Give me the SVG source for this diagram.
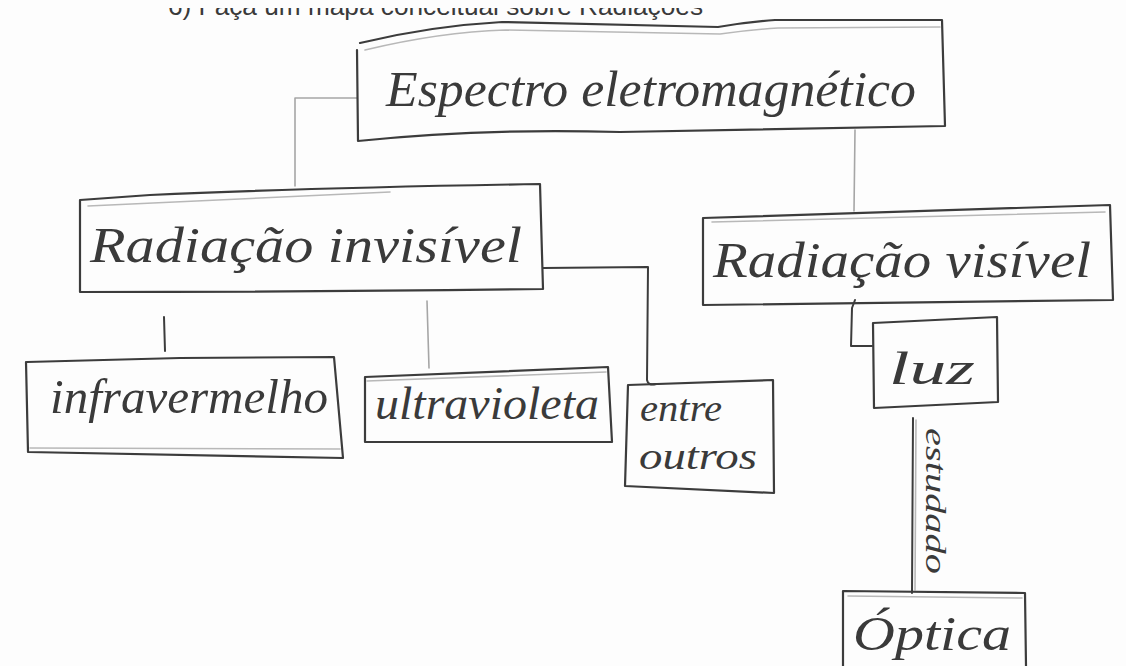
<svg xmlns="http://www.w3.org/2000/svg" width="1126" height="666" viewBox="0 0 1126 666">
  <defs>
    <style>
      .box { fill: none; stroke: #3c3c3c; stroke-width: 2.2; stroke-linecap: round; stroke-linejoin: round; }
      .ghost { fill: none; stroke: #b8b8b8; stroke-width: 1.6; stroke-linecap: round; }
      .link { fill: none; stroke: #3c3c3c; stroke-width: 2; stroke-linecap: round; stroke-linejoin: round; }
      .link-faint { fill: none; stroke: #a6a6a6; stroke-width: 1.6; stroke-linecap: round; stroke-linejoin: round; }
      .hand { font-family: "Liberation Serif", "DejaVu Serif", serif; font-style: italic; fill: #3a3a3a; }
      .print { font-family: "Liberation Sans", Arial, sans-serif; fill: #3a3a3a; }
    </style>
    <clipPath id="page-top">
      <rect x="0" y="8" width="1126" height="40"/>
    </clipPath>
  </defs>

  <rect x="0" y="0" width="1126" height="666" fill="#fdfdfd"/>

  <!-- printed exercise heading, cut at the page edge -->
  <g clip-path="url(#page-top)">
    <text class="print" x="168" y="15" font-size="26" textLength="535" lengthAdjust="spacingAndGlyphs">6) Faça um mapa conceitual sobre Radiações</text>
  </g>

  <!-- connectors -->
  <g id="connectors">
    <path class="link-faint" d="M357,98 H295 V186"/>
    <path class="link-faint" d="M855,130 L854,211"/>
    <path class="link" d="M164,317 L165,351"/>
    <path class="link-faint" d="M427,301 L429,368"/>
    <path class="link" d="M543,268 L648,267 L647,380 Q648,386 656,384"/>
    <path class="link" d="M855,300 L852,308 L851,346 L872,346"/>
    <path class="ghost" d="M916,420 L915,590"/>
    <path class="link" d="M913,418 L912,593"/>
    <text class="hand" x="0" y="0" font-size="30" textLength="146" lengthAdjust="spacingAndGlyphs" transform="translate(926,428) rotate(90)">estudado</text>
  </g>

  <!-- root node -->
  <g id="node-espectro">
    <path class="ghost" d="M365,50 Q440,32 505,30 L720,34 Q748,30 778,28 L940,27"/>
    <path class="box" d="M360,43 Q430,26 502,22 L718,27 Q746,22 775,20 L942,20 L945,126 Q760,130 620,132 Q480,128 358,141 L357,50"/>
    <text class="hand" x="386" y="106" font-size="50" textLength="530" lengthAdjust="spacingAndGlyphs">Espectro eletromagnético</text>
  </g>

  <!-- invisible radiation -->
  <g id="node-invisivel">
    <path class="ghost" d="M88,206 L260,198 L390,192"/>
    <path class="box" d="M80,200 L150,195 Q300,188 540,184 L543,289 Q320,292 80,292 Z"/>
    <text class="hand" x="90" y="262" font-size="50" textLength="432" lengthAdjust="spacingAndGlyphs">Radiação invisível</text>
  </g>

  <!-- visible radiation -->
  <g id="node-visivel">
    <path class="ghost" d="M712,222 L1105,212"/>
    <path class="box" d="M703,218 L1110,205 L1113,300 L703,305 Z"/>
    <text class="hand" x="713" y="277" font-size="50" textLength="378" lengthAdjust="spacingAndGlyphs">Radiação visível</text>
  </g>

  <!-- infrared -->
  <g id="node-infravermelho">
    <path class="box" d="M27,362 L180,358 L334,357 L343,458 L28,452 L26,362"/>
    <path class="ghost" d="M30,448 L340,449"/>
    <text class="hand" x="50" y="413" font-size="48" textLength="278" lengthAdjust="spacingAndGlyphs">infravermelho</text>
  </g>

  <!-- ultraviolet -->
  <g id="node-ultravioleta">
    <path class="box" d="M365,377 L608,367 L612,442 L365,442 Z"/>
    <path class="ghost" d="M367,381 L606,372"/>
    <text class="hand" x="375" y="419" font-size="46" textLength="224" lengthAdjust="spacingAndGlyphs">ultravioleta</text>
  </g>

  <!-- others -->
  <g id="node-outros">
    <path class="box" d="M628,385 L773,380 L774,493 L625,486 L628,385"/>
    <text class="hand" x="640" y="421" font-size="38" textLength="82" lengthAdjust="spacingAndGlyphs">entre</text>
    <text class="hand" x="639" y="469" font-size="38" textLength="118" lengthAdjust="spacingAndGlyphs">outros</text>
  </g>

  <!-- light -->
  <g id="node-luz">
    <path class="box" d="M873,323 L997,317 L998,402 L874,408 Z"/>
    <text class="hand" x="889" y="384" font-size="46" textLength="86" lengthAdjust="spacingAndGlyphs">luz</text>
  </g>

  <!-- optics -->
  <g id="node-optica">
    <path class="ghost" d="M848,596 L1022,598"/>
    <path class="box" d="M843,666 L843,591 L1025,593 L1026,666"/>
    <text class="hand" x="853" y="650" font-size="48" textLength="158" lengthAdjust="spacingAndGlyphs">Óptica</text>
  </g>
</svg>
